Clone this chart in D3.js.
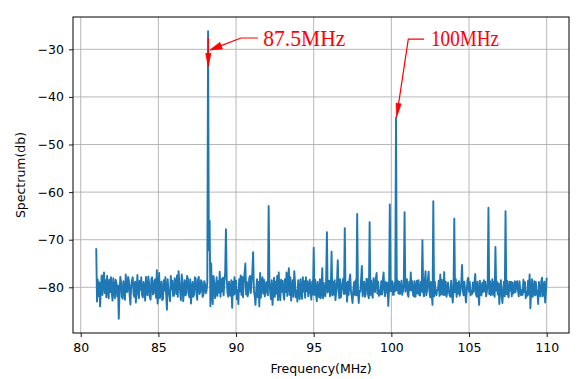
<!DOCTYPE html>
<html>
<head>
<meta charset="utf-8">
<script src="https://cdn.jsdelivr.net/npm/d3@7/dist/d3.min.js"></script>
<style>
  html, body { margin: 0; padding: 0; background: #ffffff; }
  svg { display: block; }
</style>
</head>
<body>
<svg id="chart" width="580" height="379"></svg>
<script>
// ---------------- data ----------------
const freqStart = 81.0;   // MHz, first sample
const freqStep = 0.05;    // MHz between samples
// one row per MHz (20 samples)
const spectrum = [
  -71.8, -83.0, -78.4, -81.9, -79.0, -84.0, -80.3, -77.5, -81.6, -78.3, -76.9, -81.2, -78.5, -82.1, -77.6, -80.2, -82.3, -78.4, -81.0, -77.9, // 81
  -81.2, -82.8, -78.1, -80.4, -82.3, -78.4, -79.1, -81.9, -79.6, -86.6, -81.3, -77.8, -78.9, -82.0, -82.4, -78.7, -80.6, -82.6, -77.3, -81.0, // 82
  -80.9, -77.8, -78.6, -81.7, -83.6, -79.6, -78.5, -77.9, -81.3, -82.0, -78.8, -83.2, -80.6, -77.4, -81.2, -82.3, -78.6, -80.5, -77.9, -81.6, // 83
  -82.1, -78.9, -80.4, -82.8, -77.8, -80.9, -81.7, -77.7, -79.0, -82.1, -82.6, -78.2, -77.9, -81.5, -81.3, -78.6, -78.3, -82.2, -76.4, -83.4, // 84
  -80.6, -77.0, -82.3, -80.9, -78.8, -82.7, -82.4, -78.5, -80.7, -77.9, -81.4, -84.7, -78.3, -80.8, -81.5, -82.9, -77.6, -80.4, -78.6, -81.8, // 85
  -81.8, -78.1, -79.0, -81.4, -77.5, -82.0, -76.6, -79.1, -80.9, -82.7, -77.3, -78.7, -82.9, -80.6, -78.5, -81.7, -81.2, -77.6, -78.2, -81.3, // 86
  -82.1, -78.3, -83.4, -80.7, -78.9, -82.0, -81.5, -77.9, -78.1, -81.1, -82.6, -78.4, -77.8, -81.4, -80.9, -78.5, -78.9, -82.0, -81.6, -78.7, // 87
  -79.2, -81.2, -80.8, -79.0, -26.2, -72.2, -66.0, -84.0, -75.0, -81.2, -83.5, -77.6, -79.1, -82.3, -80.7, -77.9, -81.8, -78.7, -81.1, -76.7, // 88
  -82.0, -78.3, -80.9, -78.0, -81.7, -78.7, -76.9, -67.8, -78.2, -81.2, -82.0, -78.8, -81.3, -81.8, -78.5, -84.3, -78.8, -81.6, -77.9, -81.3, // 89
  -78.6, -82.5, -80.6, -83.5, -78.3, -80.9, -77.5, -81.6, -77.8, -82.1, -79.0, -77.0, -75.0, -81.5, -78.9, -81.9, -81.0, -78.1, -77.6, -81.2, // 90
  -78.7, -76.8, -72.6, -80.8, -81.7, -83.7, -80.6, -78.3, -82.1, -78.9, -84.0, -77.0, -82.2, -79.3, -77.9, -81.3, -78.4, -81.9, -80.8, -78.9, // 91
  -80.9, -81.7, -62.9, -78.7, -81.2, -82.5, -78.5, -83.7, -80.8, -78.0, -82.0, -78.8, -81.3, -77.6, -82.7, -76.9, -81.1, -82.7, -78.4, -80.9, // 92
  -78.6, -81.4, -82.6, -78.3, -81.0, -76.9, -81.8, -78.9, -76.0, -81.6, -77.9, -82.8, -80.5, -78.5, -82.0, -76.6, -79.1, -82.1, -80.7, -83.0, // 93
  -78.5, -81.2, -82.5, -78.3, -80.8, -82.4, -77.9, -80.9, -78.7, -82.2, -77.9, -80.8, -78.7, -81.9, -80.5, -78.4, -81.3, -82.6, -78.8, -81.5, // 94
  -71.7, -81.6, -78.4, -81.5, -82.9, -78.9, -80.8, -82.1, -78.3, -82.3, -81.0, -76.0, -82.3, -79.1, -81.6, -81.9, -78.7, -68.4, -81.1, -78.9, // 95
  -78.6, -81.9, -80.5, -72.5, -81.7, -78.9, -81.5, -78.5, -82.7, -80.8, -78.8, -74.3, -80.8, -82.3, -78.3, -82.1, -80.6, -79.1, -78.2, -81.4, // 96
  -67.6, -81.3, -79.1, -83.0, -78.8, -81.6, -78.4, -77.3, -80.9, -81.9, -83.3, -80.6, -78.9, -81.6, -78.5, -81.7, -64.6, -80.8, -83.3, -80.7, // 97
  -80.9, -78.4, -75.5, -81.9, -80.5, -78.8, -82.0, -81.4, -78.2, -78.3, -81.5, -82.3, -66.3, -81.6, -78.6, -81.3, -82.2, -78.1, -79.2, -81.0, // 98
  -78.1, -77.0, -81.3, -78.8, -81.8, -80.7, -81.5, -78.7, -81.5, -78.4, -76.9, -80.8, -81.9, -78.9, -81.1, -79.1, -83.9, -80.6, -62.6, -80.8, // 99
  -80.7, -78.7, -81.6, -81.6, -79.0, -80.8, -44.3, -80.6, -78.5, -81.3, -78.8, -81.4, -80.5, -78.6, -81.6, -80.7, -79.1, -64.2, -80.9, -78.9, // 100
  -78.3, -81.5, -82.0, -78.8, -80.6, -76.9, -80.7, -78.7, -81.6, -81.9, -78.7, -82.0, -80.6, -78.6, -81.3, -78.5, -81.6, -81.7, -78.9, -80.9, // 101
  -70.1, -81.0, -81.9, -78.7, -76.6, -81.7, -80.7, -78.4, -76.7, -80.8, -82.1, -78.9, -81.5, -83.7, -61.9, -81.9, -78.8, -80.9, -81.7, -80.5, // 102
  -80.5, -78.6, -81.8, -77.3, -81.5, -78.4, -81.3, -81.6, -76.8, -81.6, -78.8, -82.0, -80.9, -79.0, -80.7, -81.7, -82.0, -78.6, -81.0, -83.2, // 103
  -80.9, -65.6, -81.0, -78.3, -82.0, -79.1, -81.3, -78.7, -81.8, -80.7, -79.0, -75.3, -80.7, -81.7, -78.8, -80.8, -83.2, -81.1, -78.5, -78.0, // 104
  -80.9, -78.9, -81.7, -80.7, -81.4, -79.0, -81.0, -79.2, -77.2, -81.5, -82.0, -78.8, -81.1, -83.7, -78.6, -81.3, -81.7, -79.1, -81.0, -78.5, // 105
  -80.8, -78.8, -81.9, -80.9, -79.1, -63.3, -81.4, -78.7, -81.7, -80.7, -78.3, -81.6, -78.9, -82.0, -71.5, -80.7, -78.9, -81.5, -79.2, -83.5, // 106
  -80.9, -78.5, -81.6, -83.3, -80.6, -78.8, -81.9, -64.0, -81.4, -78.6, -81.6, -82.1, -78.8, -80.7, -78.8, -81.9, -79.0, -81.3, -81.0, -78.7, // 107
  -81.0, -79.1, -78.7, -80.6, -81.9, -78.7, -80.8, -81.7, -80.5, -81.6, -78.4, -81.0, -78.9, -82.3, -80.9, -81.8, -78.6, -81.5, -77.3, -84.4, // 108
  -80.7, -78.3, -82.0, -81.0, -78.7, -81.7, -78.9, -81.5, -80.7, -83.5, -78.9, -81.5, -81.9, -78.7, -78.0, -81.9, -80.8, -78.8, -83.2, -81.1, // 109
  -78.0                                                                                                                                          // 110
];
const xTicks = [80, 85, 90, 95, 100, 105, 110];
const yTicks = [-80, -70, -60, -50, -40, -30];
const xLabel = "Frequency(MHz)";
const yLabel = "Spectrum(db)";
const annoLabels = ["87.5MHz", "100MHz"];
const annoPeaks = [88.2, 100.3];   // MHz of the annotated peaks

// ---------------- layout ----------------
const m = { left: 73, top: 17, right: 569, bottom: 333 };
const svg = d3.select("#chart");

const x = d3.scaleLinear().domain([79.504, 111.436]).range([m.left, m.right]);
const y = d3.scaleLinear().domain([-89.6, -23.21]).range([m.bottom, m.top]);

const pts = spectrum.map((v, i) => ({ f: freqStart + i * freqStep, v }));
const valueAt = f => spectrum[Math.round((f - freqStart) / freqStep)];

const font = "'DejaVu Sans', sans-serif";

// grid
const grid = svg.append("g");
grid.selectAll("line.gx").data(xTicks).join("line")
  .attr("x1", d => x(d)).attr("x2", d => x(d))
  .attr("y1", m.top).attr("y2", m.bottom)
  .attr("stroke", "#b0b0b0").attr("stroke-width", 0.9);
grid.selectAll("line.gy").data(yTicks).join("line")
  .attr("x1", m.left).attr("x2", m.right)
  .attr("y1", d => y(d)).attr("y2", d => y(d))
  .attr("stroke", "#b0b0b0").attr("stroke-width", 0.9);

// data line
svg.append("path")
  .datum(pts)
  .attr("fill", "none")
  .attr("stroke", "#1f77b4")
  .attr("stroke-width", 1.9)
  .attr("stroke-linejoin", "round")
  .attr("d", d3.line().x(d => x(d.f)).y(d => y(d.v)));

// axes
const fmt = d => (d < 0 ? "\u2212" + Math.abs(d) : String(d));
const xAxis = d3.axisBottom(x).tickValues(xTicks).tickSize(4).tickPadding(6).tickFormat(fmt);
const yAxis = d3.axisLeft(y).tickValues(yTicks).tickSize(4).tickPadding(5).tickFormat(fmt);

const gx = svg.append("g").attr("transform", `translate(0,${m.bottom})`).call(xAxis);
const gy = svg.append("g").attr("transform", `translate(${m.left},0)`).call(yAxis);
[gx, gy].forEach(g => {
  g.select(".domain").remove();
  g.selectAll(".tick line").attr("stroke", "#000").attr("stroke-width", 0.9);
  g.selectAll(".tick text").attr("fill", "#000").style("font-family", font).style("font-size", "12.5px");
});
gx.selectAll(".tick text").attr("dy", "0.75em");

// spines
svg.append("rect")
  .attr("x", m.left).attr("y", m.top)
  .attr("width", m.right - m.left).attr("height", m.bottom - m.top)
  .attr("fill", "none").attr("stroke", "#000").attr("stroke-width", 1);

// axis labels
svg.append("text")
  .attr("x", (m.left + m.right) / 2).attr("y", 373)
  .attr("text-anchor", "middle")
  .style("font-family", font).style("font-size", "12.5px")
  .text(xLabel);
svg.append("text")
  .attr("transform", `translate(25,${(m.top + m.bottom) / 2}) rotate(-90)`)
  .attr("text-anchor", "middle")
  .style("font-family", font).style("font-size", "12.5px")
  .text(yLabel);

// ---------------- annotations ----------------
const red = "#ff0000";
function arrow(points, headLen, headW) {
  const g = svg.append("g");
  const n = points.length;
  const [tx, ty] = points[n - 1];
  const [px, py] = points[n - 2];
  const ang = Math.atan2(ty - py, tx - px);
  const bx = tx - headLen * Math.cos(ang), by = ty - headLen * Math.sin(ang);
  const line = points.slice(0, n - 1).concat([[bx, by]]);
  g.append("path")
    .attr("d", d3.line()(line))
    .attr("fill", "none").attr("stroke", red).attr("stroke-width", 1.2);
  const nx = -Math.sin(ang) * headW / 2, ny = Math.cos(ang) * headW / 2;
  g.append("path")
    .attr("d", `M${tx},${ty}L${bx + nx},${by + ny}L${bx - nx},${by - ny}Z`)
    .attr("fill", red).attr("stroke", red).attr("stroke-width", 0.8);
}

// 87.5 MHz peak annotation
arrow([[x(91.41), y(-27.62)], [x(90.32), y(-27.62)], [x(88.32), y(-30.14)]], 12, 7);
arrow([[x(annoPeaks[0]) + 0.2, y(-27.6)], [x(annoPeaks[0]) + 0.2, y(-33.6)]], 13, 5);
svg.append("text")
  .attr("x", x(91.755)).attr("y", y(-29.4))
  .attr("fill", red)
  .attr("textLength", 82).attr("lengthAdjust", "spacingAndGlyphs")
  .style("font-family", "'Liberation Serif', serif").style("font-size", "23px")
  .text(annoLabels[0]);

// 100 MHz peak annotation
arrow([[x(102.1), y(-27.85)], [x(101.09), y(-27.85)], [x(100.33), y(valueAt(annoPeaks[1]))]], 14, 5);
svg.append("text")
  .attr("x", x(102.553)).attr("y", y(-29.4))
  .attr("fill", red)
  .attr("textLength", 68).attr("lengthAdjust", "spacingAndGlyphs")
  .style("font-family", "'Liberation Serif', serif").style("font-size", "23px")
  .text(annoLabels[1]);
</script>
</body>
</html>
